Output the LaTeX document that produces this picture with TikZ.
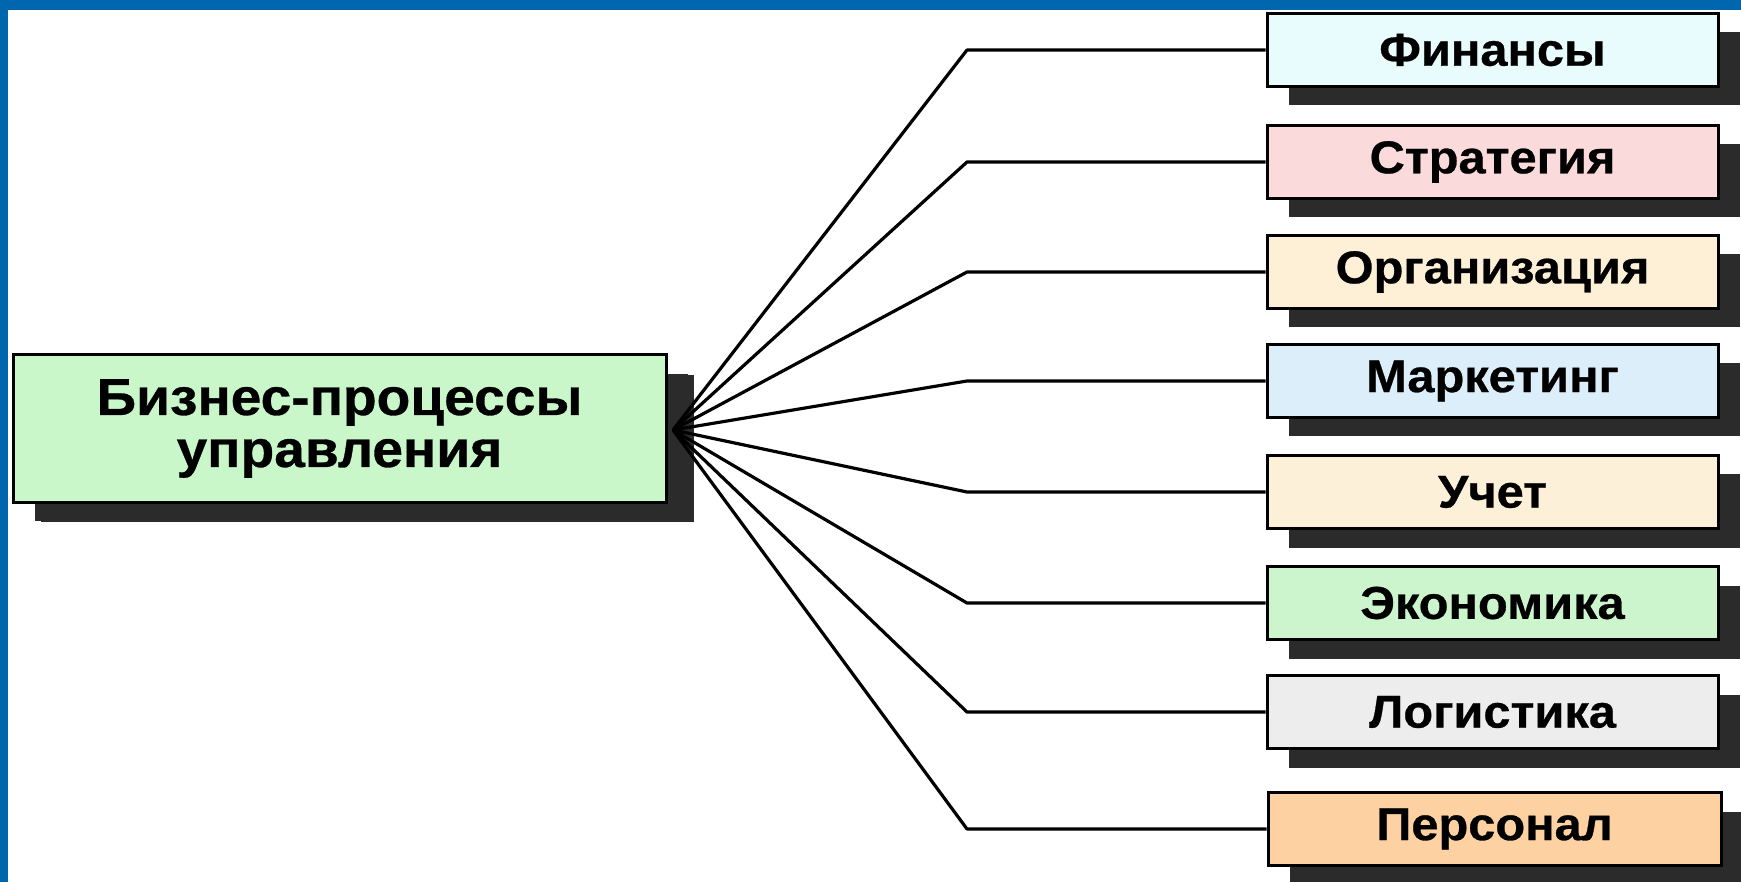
\documentclass[tikz,border=0pt]{standalone}
\usepackage{fontspec}
\setmainfont{Liberation Sans}
\newfontfamily\widesans[FakeStretch=1.06,FakeBold=0.6]{Liberation Sans}
\usetikzlibrary{shadows}
\definecolor{frameblue}{HTML}{0066AE}
\definecolor{shadowgray}{HTML}{2B2B2B}
\definecolor{cMain}{HTML}{C9F7C9}
\definecolor{cFin}{HTML}{E8FBFD}
\definecolor{cStr}{HTML}{FADADA}
\definecolor{cOrg}{HTML}{FDF0D6}
\definecolor{cMkt}{HTML}{DDEEFB}
\definecolor{cAcc}{HTML}{FDF0D8}
\definecolor{cEco}{HTML}{CDF5CD}
\definecolor{cLog}{HTML}{EDEDED}
\definecolor{cPer}{HTML}{FDD1A2}
\begin{document}
\begin{tikzpicture}[x=1pt,y=-1pt,
  boxbase/.style={draw=black,line width=3pt,inner sep=0pt,align=center,
    general shadow={fill=shadowgray,shadow xshift=22pt,shadow yshift=-19pt}},
  topic/.style={boxbase,minimum width=451pt,minimum height=73pt,
    font=\widesans\bfseries\fontsize{46}{50}\selectfont},
  rootbox/.style={boxbase,minimum width=653pt,minimum height=147pt,
    general shadow={fill=shadowgray,shadow xshift=28pt,shadow yshift=-20pt},
    font=\widesans\bfseries\fontsize{52}{52}\selectfont},
  link/.style={line width=3.2pt,line join=round}]
% page and blue frame
\useasboundingbox (0,0) rectangle (1741,882);
\fill[white] (0,0) rectangle (1741,882);
\fill[frameblue] (0,0) rectangle (1741,10);
\fill[frameblue] (0,0) rectangle (8,882);
% central box
\node[rootbox,fill=cMain] (root) at (339.5,428.5) {Бизнес-процессы\\управления};
% topic boxes
\node[topic,fill=cFin] (fin) at (1492.5,50) {Финансы};
\node[topic,fill=cStr] (str) at (1492.5,162) {Стратегия};
\node[topic,fill=cOrg] (org) at (1492.5,272) {Организация};
\node[topic,fill=cMkt] (mkt) at (1492.5,381) {Маркетинг};
\node[topic,fill=cAcc] (acc) at (1492.5,492) {Учет};
\node[topic,fill=cEco] (eco) at (1492.5,603) {Экономика};
\node[topic,fill=cLog] (log) at (1492.5,712) {Логистика};
\node[topic,fill=cPer,minimum width=453pt] (per) at (1494.5,829) {Персонал};
% fan of connectors
\coordinate (hub) at (673,430);
\coordinate (bend) at (967,0);
\foreach \t in {fin,str,org,mkt,acc,eco,log,per}{
  \draw[link] (hub) -- (bend |- \t.west) -- (\t.west);
}
\end{tikzpicture}
\end{document}
